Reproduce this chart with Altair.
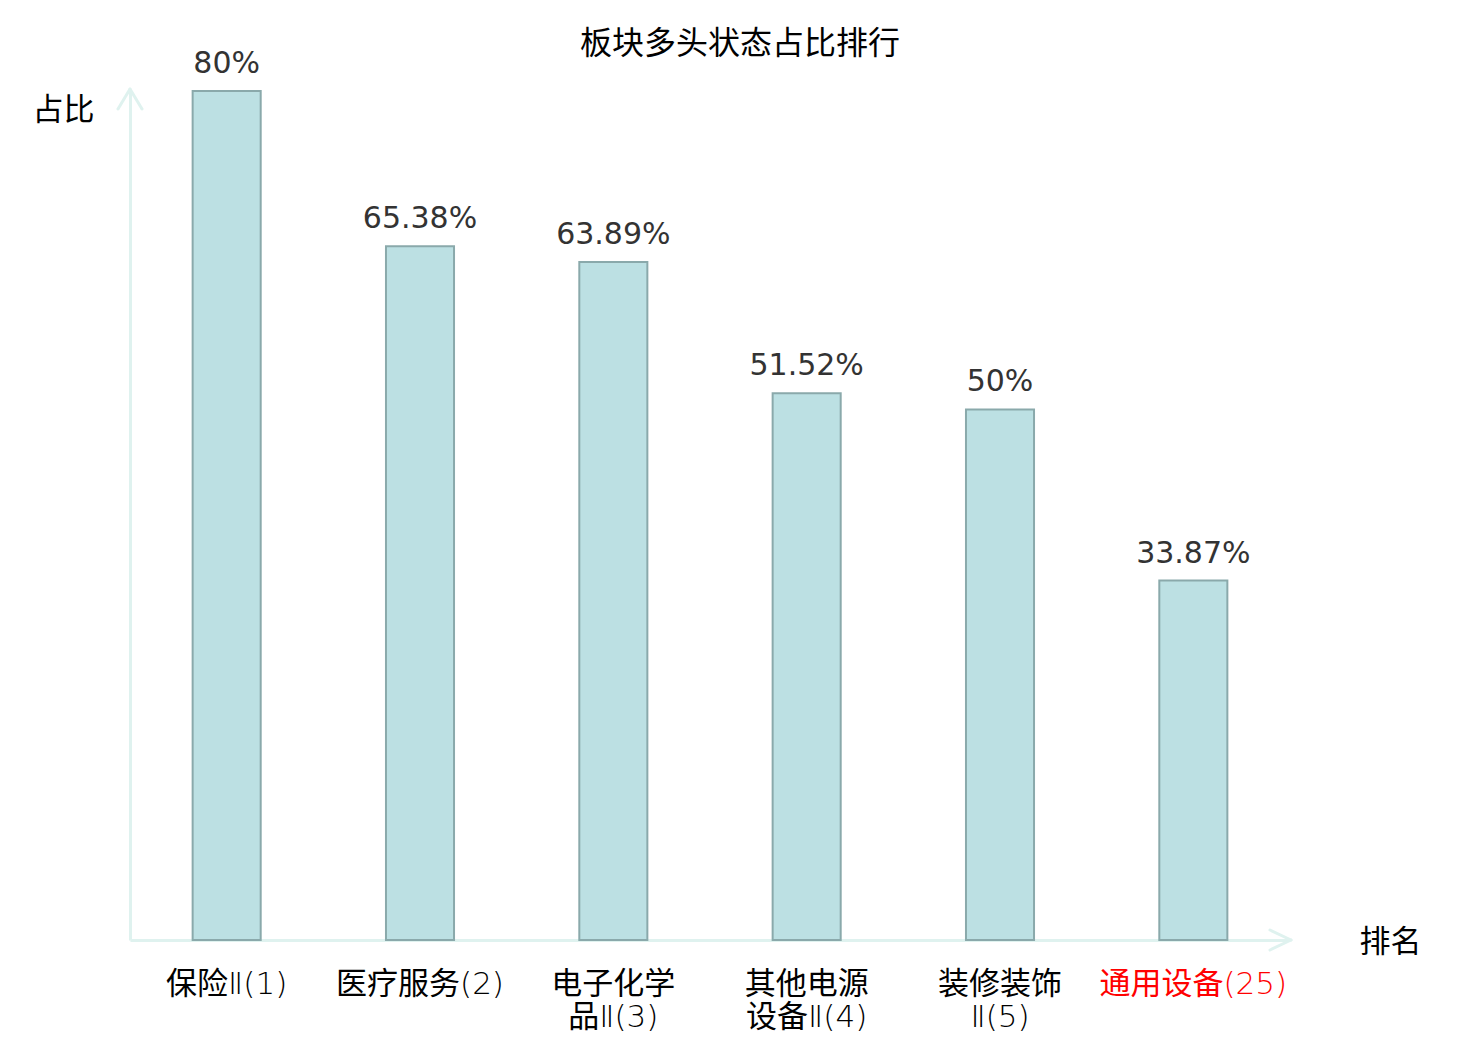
import altair as alt
import pandas as pd

# ---- data ----
categories = ["保险Ⅱ(1)", "医疗服务(2)", "电子化学|品Ⅱ(3)", "其他电源|设备Ⅱ(4)", "装修装饰|Ⅱ(5)", "通用设备(25)"]
values = [80, 65.38, 63.89, 51.52, 50, 33.87]
value_labels = ["80%", "65.38%", "63.89%", "51.52%", "50%", "33.87%"]
highlight = "通用设备(25)"
chart_title = "板块多头状态占比排行"
x_title = "排名"
y_title = "占比"

df = pd.DataFrame({"板块": categories, "占比": values, "标签": value_labels})

axis_color = "#dff2ef"
cjk = "Noto Sans CJK SC"
label_font = "DejaVu Sans Light, Noto Sans CJK SC"
W, H = 1160, 849

x_enc = alt.X(
    "板块:N", sort=None,
    scale=alt.Scale(paddingInner=0.648, paddingOuter=0.324),
    axis=alt.Axis(
        title=x_title, titleAngle=0, titleX=W + 100, titleY=2,
        titleAlign="center", titleBaseline="middle",
        titleFont=cjk, titleFontSize=31, titleFontWeight="normal", titleColor="black",
        labelAngle=0, labelExpr="split(datum.label, '|')",
        labelFont=label_font, labelFontSize=31, labelFontWeight="normal",
        labelLineHeight=33, labelPadding=29,
        labelColor=alt.condition(f"datum.value == '{highlight}'", alt.value("#ff0000"), alt.value("black")),
        labelOverlap=False, labelLimit=400,
        ticks=False, domainColor=axis_color, domainWidth=3,
    ),
)
y_enc = alt.Y(
    "占比:Q",
    scale=alt.Scale(domain=[0, 80], nice=False, zero=True),
    axis=alt.Axis(
        title=y_title, titleAngle=0, titleX=-67, titleY=19,
        titleAlign="center", titleBaseline="middle",
        titleFont=cjk, titleFontSize=31, titleFontWeight="normal", titleColor="black",
        labels=False, ticks=False, grid=False,
        domainColor=axis_color, domainWidth=3,
    ),
)

base = alt.Chart(df)
bars = base.mark_bar(fill="#bce0e3", stroke="#8aa9ab", strokeWidth=2).encode(x=x_enc, y=y_enc)
texts = base.mark_text(
    dy=-18, baseline="alphabetic", align="center",
    font="DejaVu Sans", fontSize=30, color="#333333",
).encode(x=alt.X("板块:N", sort=None), y="占比:Q", text="标签:N")

one = alt.Data(values=[{"k": 0}])
arrow_segments = [
    (0, -2, -12, 18), (0, -2, 12, 18),
    (W + 1, H, W - 20, H - 10), (W + 1, H, W - 20, H + 10),
]
arrows = [
    alt.Chart(one).mark_rule(color=axis_color, strokeWidth=3, strokeCap="round").encode(
        x=alt.value(a), y=alt.value(b), x2=alt.value(c), y2=alt.value(d)
    )
    for a, b, c, d in arrow_segments
]

chart = alt.layer(bars, texts, *arrows).properties(
    width=W, height=H,
    title=alt.TitleParams(chart_title, font=cjk, fontSize=32, fontWeight="normal",
                          color="black", anchor="middle", dx=30, dy=16),
    autosize=alt.AutoSizeParams(type="none"),
    padding={"left": 122, "top": 83, "right": 182, "bottom": 92},
    background="white",
).configure_view(stroke=None)

chart.save("out.html", embed_options={"renderer": "svg", "actions": False})
